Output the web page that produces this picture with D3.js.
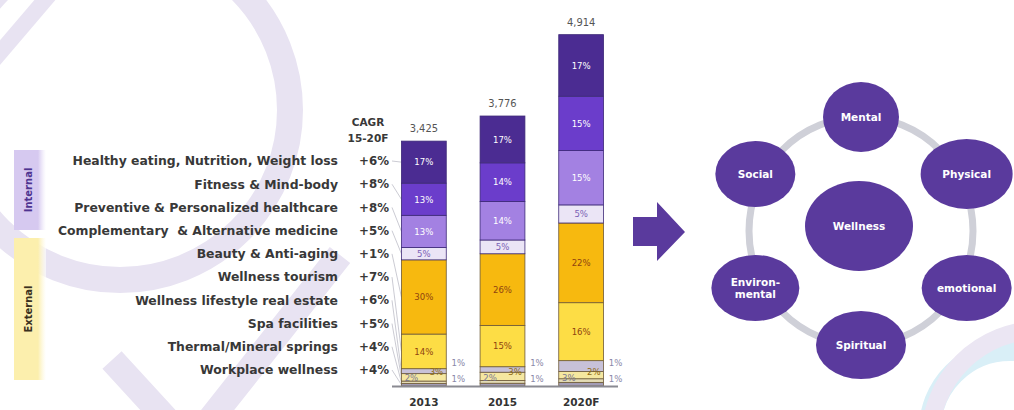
<!DOCTYPE html>
<html><head><meta charset="utf-8">
<script src="https://cdn.jsdelivr.net/npm/d3@7"></script>
<style>html,body{margin:0;padding:0;background:#fff;} svg{display:block}</style>
</head><body><svg id="c" width="1014" height="410"></svg>
<script>
// ---------------- data ----------------
const years = ["2013", "2015", "2020F"];
const totals = [3425, 3776, 4914];
const categories = [
  "Healthy eating, Nutrition, Weight loss",
  "Fitness & Mind-body",
  "Preventive & Personalized healthcare",
  "Complementary  & Alternative medicine",
  "Beauty & Anti-aging",
  "Wellness tourism",
  "Wellness lifestyle real estate",
  "Spa facilities",
  "Thermal/Mineral springs",
  "Workplace wellness"
];
const cagr = ["+6%", "+8%", "+8%", "+5%", "+1%", "+7%", "+6%", "+5%", "+4%", "+4%"];
const cagrHeader = ["CAGR", "15-20F"];
const groups = ["Internal", "External"];
const groupSizes = [4, 6];
const share2013 = [17, 13, 13, 5, 30, 14, 2, 3, 1, 1];
const share2015 = [17, 14, 14, 5, 26, 15, 2, 3, 1, 1];
const share2020F = [17, 15, 15, 5, 22, 16, 3, 2, 1, 1];
const shares = [share2013, share2015, share2020F];
const hub = "Wellness";
const dimensions = ["Mental", "Physical", "emotional", "Spiritual", "Environ-|mental", "Social"];

// ---------------- styles ----------------
const catColors = ["#4b2c92", "#6b3dcb", "#a381e2", "#ebe5f6", "#f7b90f", "#fddd45",
                   "#c7c1d8", "#f5e7a0", "#e4dcb5", "#a29cb6"];
const labelColors = ["#fff", "#fff", "#fff", "#7a62b5", "#8f4410", "#8f4410",
                     "#7a7890", "#8f6a10", "#7a7890", "#7a7890"];
const purple = "#5a3a9d";

const svg = d3.select("#c");
const fontMain = "'DejaVu Sans', Verdana, sans-serif";
const fontCond = "'DejaVu Sans Condensed', 'DejaVu Sans', sans-serif";

// ---------------- watermark ----------------
const wm = svg.append("g").attr("fill", "none").attr("stroke", "#e8e3f2");
wm.append("circle").attr("cx", 120).attr("cy", 110).attr("r", 170).attr("stroke-width", 26);
wm.append("line").attr("x1", -8).attr("y1", 62).attr("x2", 50).attr("y2", -6).attr("stroke-width", 16);
wm.append("path").attr("d", "M112,360 L190,445 L340,255").attr("stroke-width", 26);
wm.append("circle").attr("cx", 1010).attr("cy", 430).attr("r", 80).attr("stroke", "#d9eff7").attr("stroke-width", 22);
wm.append("circle").attr("cx", 1040).attr("cy", 440).attr("r", 110).attr("stroke", "#ebe6f3").attr("stroke-width", 18);

// ---------------- scales ----------------
const x = d3.scaleBand().domain(years).range([384.5, 620.5]).paddingInner(0.43).paddingOuter(0.215);
const y = d3.scaleLinear().domain([0, 5000]).range([386, 28.5]);
const rowY = d3.scalePoint().domain(categories).range([161, 370]);

// ---------------- group boxes ----------------
const defs = svg.append("defs");
[["gInt", "#d6c9f0"], ["gExt", "#fcefad"]].forEach(([id, c]) => {
  const g = defs.append("linearGradient").attr("id", id);
  g.append("stop").attr("offset", "0%").attr("stop-color", c);
  g.append("stop").attr("offset", "75%").attr("stop-color", c);
  g.append("stop").attr("offset", "100%").attr("stop-color", "#fff").attr("stop-opacity", 0.6);
});
const boxSpans = [[150, 230], [238, 380]];
groups.forEach((gname, gi) => {
  const [y0, y1] = boxSpans[gi];
  svg.append("rect").attr("x", 14).attr("y", y0).attr("width", 32).attr("height", y1 - y0)
    .attr("fill", gi === 0 ? "url(#gInt)" : "url(#gExt)");
  svg.append("text").attr("transform", `translate(32,${(y0 + y1) / 2}) rotate(-90)`)
    .attr("text-anchor", "middle").attr("font-family", fontMain).attr("font-weight", "bold")
    .attr("font-size", 10).attr("fill", gi === 0 ? "#4e3390" : "#3a3020").text(gname);
});

// ---------------- category labels and CAGR ----------------
svg.append("g").selectAll("text").data(categories).join("text")
  .attr("x", 338).attr("y", d => rowY(d)).attr("dy", "0.35em").attr("text-anchor", "end")
  .attr("font-family", fontMain).attr("font-weight", "bold").attr("font-size", 12.4)
  .attr("fill", "#383838").style("white-space", "pre").text(d => d);
svg.append("g").selectAll("text").data(cagr).join("text")
  .attr("x", 389).attr("y", (d, i) => rowY(categories[i])).attr("dy", "0.35em").attr("text-anchor", "end")
  .attr("font-family", fontMain).attr("font-weight", "bold").attr("font-size", 11.8)
  .attr("fill", "#383838").text(d => d);
svg.append("g").selectAll("text").data(cagrHeader).join("text")
  .attr("x", 368).attr("y", (d, i) => 122 + i * 16).attr("dy", "0.35em").attr("text-anchor", "middle")
  .attr("font-family", fontMain).attr("font-weight", "bold").attr("font-size", 10.5)
  .attr("fill", "#383838").text(d => d);

// ---------------- stacked bars ----------------
const table = years.map((yr, yi) => {
  const s = d3.sum(shares[yi]);
  const row = { year: yr };
  categories.forEach((c, ci) => row[c] = totals[yi] * shares[yi][ci] / s);
  return row;
});
const stackKeys = categories.slice().reverse();
const series = d3.stack().keys(stackKeys)(table);

// leader lines from CAGR to 2013 bar
const s2013 = {};
series.forEach(se => { s2013[se.key] = se[0]; });
svg.append("g").selectAll("line").data(categories).join("line")
  .attr("x1", 392).attr("y1", d => rowY(d))
  .attr("x2", x("2013")).attr("y2", d => y((s2013[d][0] + s2013[d][1]) / 2))
  .attr("stroke", "#b4b4c0").attr("stroke-width", 0.7);

const barG = svg.append("g");
series.forEach(se => {
  const ci = categories.indexOf(se.key);
  barG.append("g").selectAll("rect").data(se).join("rect")
    .attr("x", d => x(d.data.year)).attr("width", x.bandwidth())
    .attr("y", d => y(d[1])).attr("height", d => y(d[0]) - y(d[1]))
    .attr("fill", catColors[ci])
    .attr("stroke", ci < 4 ? "#3e2a78" : "#6e5a3a").attr("stroke-width", 0.8);
});

// segment labels
const smallPos = {
  6: (b) => [b.x0 + 10, 378],
  7: (b) => [b.x0 + 35, 372],
  8: (b) => [b.x1 + 12, 363],
  9: (b) => [b.x1 + 12, 379]
};
series.forEach(se => {
  const ci = categories.indexOf(se.key);
  se.forEach((d, yi) => {
    const pct = shares[yi][ci];
    const x0 = x(d.data.year), x1 = x0 + x.bandwidth();
    let px, py;
    if (ci < 6) { px = (x0 + x1) / 2; py = y((d[0] + d[1]) / 2); }
    else { [px, py] = smallPos[ci]({ x0, x1 }); }
    svg.append("text").attr("x", px).attr("y", py).attr("dy", "0.35em").attr("text-anchor", "middle")
      .attr("font-family", fontCond).attr("font-size", 9.5)
      .attr("fill", ci >= 8 ? "#8a88a8" : labelColors[ci]).text(pct + "%");
  });
});

// totals
svg.append("g").selectAll("text").data(table).join("text")
  .attr("x", d => x(d.year) + x.bandwidth() / 2).attr("y", (d, i) => y(totals[i]) - 9)
  .attr("text-anchor", "middle").attr("font-family", fontCond).attr("font-size", 11)
  .attr("fill", "#555").text((d, i) => d3.format(",")(totals[i]));

// baseline + year axis
svg.append("line").attr("x1", 392).attr("x2", 618).attr("y1", y(0) + 0.5).attr("y2", y(0) + 0.5)
  .attr("stroke", "#8a8a92").attr("stroke-width", 2);
const xAxis = svg.append("g").attr("transform", `translate(0,${y(0) + 8})`)
  .call(d3.axisBottom(x).tickSize(0).tickPadding(5));
xAxis.select(".domain").remove();
xAxis.selectAll("text").attr("font-family", fontMain).attr("font-weight", "bold")
  .attr("font-size", 10.5).attr("fill", "#333");

// ---------------- arrow ----------------
svg.append("path").attr("d", "M633,217 L657,217 L657,202 L685,232 L657,261 L657,246 L633,246 Z")
  .attr("fill", purple);

// ---------------- wellness wheel ----------------
const wheelC = [861, 231];
const ang = d3.scalePoint().domain(dimensions).range([-90, 210]);
svg.append("ellipse").attr("cx", wheelC[0]).attr("cy", wheelC[1]).attr("rx", 112).attr("ry", 114)
  .attr("fill", "none").attr("stroke", "#cfd0d8").attr("stroke-width", 7);
const nodeR = [[38, 35], [46, 35], [45, 33], [45, 34], [44, 33], [40, 33]];
dimensions.forEach((d, i) => {
  const a = ang(d) * Math.PI / 180;
  const cx = wheelC[0] + 122 * Math.cos(a), cy = wheelC[1] + 114 * Math.sin(a);
  svg.append("ellipse").attr("cx", cx).attr("cy", cy).attr("rx", nodeR[i][0]).attr("ry", nodeR[i][1])
    .attr("fill", purple);
  const lines = d.split("|");
  lines.forEach((ln, li) => {
    svg.append("text").attr("x", cx).attr("y", cy + (li - (lines.length - 1) / 2) * 12)
      .attr("dy", "0.35em").attr("text-anchor", "middle").attr("font-family", fontMain)
      .attr("font-weight", "bold").attr("font-size", 10.5).attr("fill", "#fff").text(ln);
  });
});
svg.append("ellipse").attr("cx", wheelC[0] - 2).attr("cy", wheelC[1] - 5).attr("rx", 54).attr("ry", 45)
  .attr("fill", purple);
svg.append("text").attr("x", wheelC[0] - 2).attr("y", wheelC[1] - 5).attr("dy", "0.35em")
  .attr("text-anchor", "middle").attr("font-family", fontMain).attr("font-weight", "bold")
  .attr("font-size", 10.5).attr("fill", "#fff").text(hub);
</script>
</body></html>
